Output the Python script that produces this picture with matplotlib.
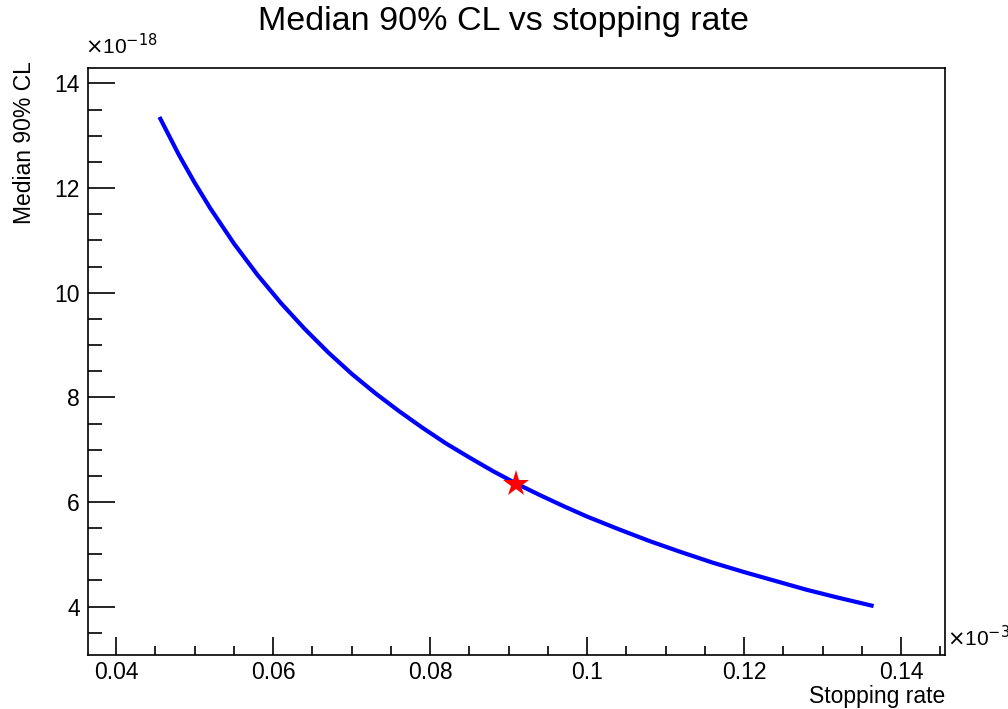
import numpy as np
import matplotlib
matplotlib.use("Agg")
import matplotlib.pyplot as plt
from matplotlib.ticker import MultipleLocator, FuncFormatter

plt.rcParams['font.family'] = ['Liberation Sans', 'DejaVu Sans']

# stopping rate (x1e-3) and median 90% CL (x1e-18)
rate = [0.0455, 0.048, 0.050, 0.052, 0.055, 0.058, 0.061, 0.064, 0.067,
        0.070, 0.073, 0.076, 0.079, 0.082, 0.085, 0.088, 0.091, 0.094,
        0.097, 0.100, 0.104, 0.108, 0.112, 0.116, 0.120, 0.124, 0.128,
        0.132, 0.1365]
median_cl = [13.36, 12.63, 12.10, 11.61, 10.94, 10.34, 9.80, 9.31, 8.86,
             8.45, 8.08, 7.74, 7.42, 7.12, 6.85, 6.59, 6.35, 6.13,
             5.92, 5.72, 5.48, 5.25, 5.04, 4.84, 4.66, 4.49, 4.32,
             4.17, 4.01]
best_rate = 0.091
best_cl = 6.35

fig = plt.figure(figsize=(10.08, 7.09), dpi=100)
ax = fig.add_axes([0.0873, 0.0762, 0.8502, 0.8278])

ax.plot(rate, median_cl, color="blue", lw=3, solid_capstyle="butt",
        solid_joinstyle="round", zorder=2)
ax.plot(best_rate, best_cl, marker="*", color="red", markersize=20,
        markeredgewidth=0, zorder=3)

# 10% margins around the data
xr = max(rate) - min(rate)
yr = max(median_cl) - min(median_cl)
ax.set_xlim(min(rate) - 0.1 * xr, max(rate) + 0.1 * xr)
ax.set_ylim(min(median_cl) - 0.1 * yr, max(median_cl) + 0.1 * yr)

ax.xaxis.set_major_locator(MultipleLocator(0.02))
ax.xaxis.set_minor_locator(MultipleLocator(0.005))
ax.yaxis.set_major_locator(MultipleLocator(2))
ax.yaxis.set_minor_locator(MultipleLocator(0.5))
ax.xaxis.set_major_formatter(FuncFormatter(lambda v, p: ("%g" % round(v, 4))))
ax.yaxis.set_major_formatter(FuncFormatter(lambda v, p: "%d" % round(v)))

ax.tick_params(axis="x", which="major", direction="in", length=13, width=1.2,
               labelsize=16.5, pad=4, top=False)
ax.tick_params(axis="x", which="minor", direction="in", length=6.5, width=1.2,
               top=False)
ax.tick_params(axis="y", which="major", direction="in", length=19.5, width=1.2,
               labelsize=16.5, pad=6, right=False)
ax.tick_params(axis="y", which="minor", direction="in", length=10, width=1.2,
               right=False)
for s in ax.spines.values():
    s.set_linewidth(1.2)

fig.text(0.5, 0.969, "Median 90% CL vs stopping rate", ha="center", va="center",
         fontsize=24.5)
fig.text(0.9375, 0.002, "Stopping rate", ha="right", va="bottom", fontsize=16.5)
fig.text(0.024, 0.914, "Median 90% CL", ha="center", va="top", rotation=90,
         fontsize=16.5)
fig.text(0.084, 0.918, r"$\times$10$^{-18}$", ha="left", va="bottom", fontsize=15)
fig.text(0.939, 0.083, r"$\times$10$^{-3}$", ha="left", va="bottom", fontsize=15)

fig.savefig("out.png", dpi=100)
